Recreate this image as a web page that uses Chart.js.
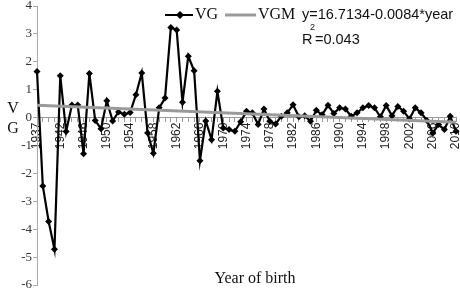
<!DOCTYPE html>
<html>
<head>
<meta charset="utf-8">
<script src="https://cdn.jsdelivr.net/npm/chart.js@4"></script>
<style>
html, body { margin: 0; padding: 0; background: #fff; }
#wrap { width: 460px; height: 289px; position: relative; }
</style>
</head>
<body>
<div id="wrap"><canvas id="myChart" width="460" height="289"></canvas></div>
<script>
// years on the category axis (1938 is not in the series)
const years = [1937, 1939, 1940, 1941, 1942, 1943, 1944, 1945, 1946, 1947, 1948, 1949,
  1950, 1951, 1952, 1953, 1954, 1955, 1956, 1957, 1958, 1959, 1960, 1961,
  1962, 1963, 1964, 1965, 1966, 1967, 1968, 1969, 1970, 1971, 1972, 1973,
  1974, 1975, 1976, 1977, 1978, 1979, 1980, 1981, 1982, 1983, 1984, 1985,
  1986, 1987, 1988, 1989, 1990, 1991, 1992, 1993, 1994, 1995, 1996, 1997,
  1998, 1999, 2000, 2001, 2002, 2003, 2004, 2005, 2006, 2007, 2008, 2009, 2010];

// labelled years on the x axis
const tickYears = [1937, 1942, 1946, 1950, 1954, 1958, 1962, 1966, 1970, 1974,
  1978, 1982, 1986, 1990, 1994, 1998, 2002, 2006, 2010];

// VG values
const vgValues = [1.65, -2.45, -3.72, -4.72, 1.5, -0.5, 0.45, 0.45, -1.3, 1.58, -0.1, -0.4,
  0.6, -0.12, 0.2, 0.12, 0.18, 0.82, 1.6, -0.55, -1.28, 0.35, 0.7, 3.23,
  3.14, 0.55, 2.2, 1.68, -1.55, -0.12, -0.79, 0.94, -0.37, -0.43, -0.49, -0.15,
  0.23, 0.17, -0.25, 0.31, -0.13, -0.23, 0.05, 0.17, 0.46, 0.03, 0.07, -0.13,
  0.26, 0.1, 0.44, 0.15, 0.35, 0.31, 0.05, 0.17, 0.35, 0.43, 0.35, 0.03,
  0.43, 0.07, 0.4, 0.23, -0.05, 0.35, 0.17, -0.1, -0.55, -0.25, -0.43, 0.05, -0.49];

// VGM trend line, value at first and last year
const vgmEnds = [0.44, -0.17];

const vgmLine = years.map((y, i) => i == 0 ? vgmEnds[0] : (i == years.length - 1 ? vgmEnds[1] : null));

const overlay = {
  id: 'overlay',
  afterDraw(chart) {
    const c = chart.ctx;
    c.save();
    // legend
    c.strokeStyle = '#000';
    c.lineWidth = 2;
    c.beginPath(); c.moveTo(165, 15); c.lineTo(193, 15); c.stroke();
    c.fillStyle = '#000';
    c.beginPath(); c.moveTo(180, 11); c.lineTo(184, 15); c.lineTo(180, 19); c.lineTo(176, 15); c.closePath(); c.fill();
    c.strokeStyle = '#9a9a9a';
    c.lineWidth = 3;
    c.beginPath(); c.moveTo(225, 15); c.lineTo(256, 15); c.stroke();
    c.fillStyle = '#111';
    c.textBaseline = 'middle';
    c.font = '16px "Liberation Serif"';
    c.fillText('VG', 195, 15);
    c.fillText('VGM', 258, 15);
    // equation
    c.font = '14.5px "Liberation Sans"';
    c.fillText('y=16.7134-0.0084*year', 302, 15);
    c.fillText('R', 302, 40);
    c.fillText('=0.043', 315, 40);
    c.font = '9px "Liberation Sans"';
    c.fillText('2', 310, 28);
    // axis titles
    c.font = '16px "Liberation Serif"';
    c.textAlign = 'center';
    c.fillText('V', 13, 109);
    c.fillText('G', 13, 129);
    c.fillText('Year of birth', 255, 279);
    c.restore();
  }
};

const config = {
  type: 'line',
  data: {
    labels: years,
    datasets: [
      {
        label: 'VG',
        data: vgValues,
        borderColor: '#000',
        backgroundColor: '#000',
        borderWidth: 2.2,
        pointStyle: 'rectRot',
        pointRadius: 3.5,
        pointBorderWidth: 0,
        order: 2
      },
      {
        label: 'VGM',
        data: vgmLine,
        borderColor: '#9a9a9a',
        borderWidth: 3,
        pointRadius: 0,
        spanGaps: true,
        order: 1
      }
    ]
  },
  options: {
    responsive: false,
    animation: false,
    layout: { padding: { left: 0, right: 4, top: 6, bottom: 3 } },
    plugins: { legend: { display: false }, tooltip: { enabled: false } },
    scales: {
      x: {
        position: { y: 0 },
        offset: false,
        afterFit: function (s) { s.paddingLeft = 0; s.paddingRight = 0; },
        grid: { drawOnChartArea: false, tickLength: 4, color: '#999' },
        border: { color: '#999' },
        ticks: {
          autoSkip: false,
          minRotation: 90,
          maxRotation: 90,
          padding: 1,
          color: '#222',
          font: { family: 'Liberation Sans', size: 12 },
          callback: function (v, i) {
            return tickYears.includes(years[i]) ? String(years[i]) : '';
          }
        }
      },
      y: {
        min: -6,
        max: 4,
        afterFit: function (s) { s.width = 37; s.paddingTop = 0; s.paddingBottom = 0; },
        grid: { drawOnChartArea: false, tickLength: 4, color: '#aaa' },
        border: { color: '#aaa' },
        ticks: {
          stepSize: 1,
          padding: 1,
          color: '#333',
          font: { family: 'Liberation Serif', size: 13 }
        }
      }
    }
  },
  plugins: [overlay]
};

const myChart = new Chart(document.getElementById('myChart'), config);
</script>
</body>
</html>
